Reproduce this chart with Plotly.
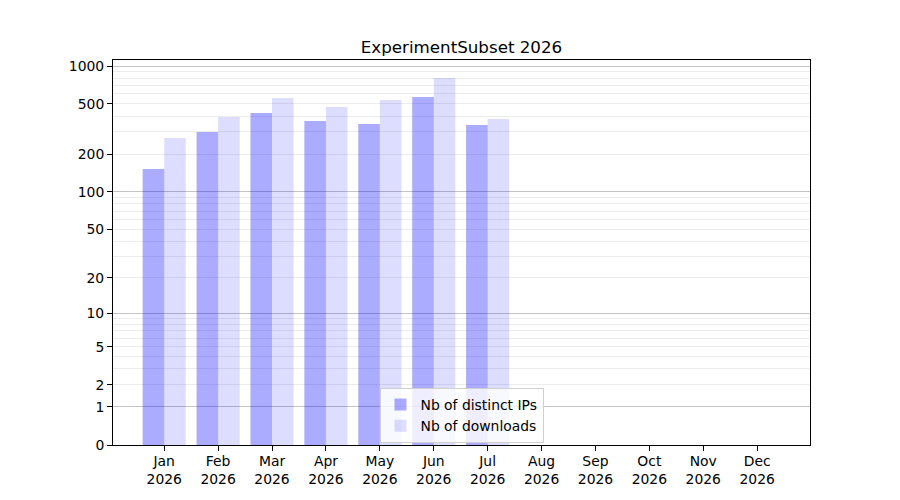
import numpy as np
import plotly.graph_objects as go

months = ['Jan', 'Feb', 'Mar', 'Apr', 'May', 'Jun', 'Jul', 'Aug', 'Sep', 'Oct', 'Nov', 'Dec']
year = '2026'
distinct_ips = [152, 300, 424, 366, 347, 568, 341]
downloads = [269, 394, 558, 473, 538, 804, 380]

tick_values = [0, 1, 2, 5, 10, 20, 50, 100, 200, 500, 1000]
major_grid = [1, 10, 100, 1000]
minor_grid = [m * d for d in (1, 10, 100) for m in range(2, 10)]


# symlog-like scale: log10(1 + v)
def tr(v):
    return np.log10(1 + np.asarray(v, dtype=float))


x = list(range(len(distinct_ips)))
font = dict(family='DejaVu Sans', size=13.9, color='black')

fig = go.Figure()
fig.add_trace(go.Bar(
    x=x, y=tr(distinct_ips), name='Nb of distinct IPs',
    marker=dict(color='rgba(0,0,255,0.33)', line_width=0),
    customdata=distinct_ips, hovertemplate='%{customdata}<extra></extra>',
))
fig.add_trace(go.Bar(
    x=x, y=tr(downloads), name='Nb of downloads',
    marker=dict(color='rgba(0,0,255,0.135)', line_width=0),
    customdata=downloads, hovertemplate='%{customdata}<extra></extra>',
))
# invisible trace just to carry the darker decade gridlines on a second axis
fig.add_trace(go.Scatter(x=[None], y=[None], yaxis='y2', showlegend=False, hoverinfo='skip'))

yrange = [0, 3.048]
# page body has an 8px margin, so the figure is 8px smaller than the window
fig.update_layout(
    width=892, height=492,
    paper_bgcolor='white', plot_bgcolor='white',
    font=font,
    margin=dict(l=105, r=90, t=52, b=55),
    barmode='group', bargap=0.2, bargroupgap=0,
    title=dict(text='ExperimentSubset ' + year, x=0.5, xref='paper', xanchor='center',
               y=1, yref='paper', yanchor='bottom', pad=dict(b=7),
               font=dict(family='DejaVu Sans', size=16.7, color='black')),
    xaxis=dict(
        range=[-0.95, 11.98], tickmode='array', tickvals=list(range(12)),
        ticktext=[m + '<br>' + year for m in months],
        showgrid=False, zeroline=False, showline=True, linecolor='black', linewidth=1,
        mirror=True, ticks='outside', ticklen=5, tickcolor='black', ticklabelstandoff=-2,
    ),
    yaxis=dict(
        range=yrange, tickmode='array', tickvals=tr(tick_values).tolist(),
        ticktext=[str(t) for t in tick_values],
        showgrid=False, zeroline=False, showline=True, linecolor='black', linewidth=1,
        mirror=True, ticks='outside', ticklen=5, tickcolor='black',
        minor=dict(tickmode='array', tickvals=tr(minor_grid).tolist(), showgrid=True,
                   gridcolor='#ececec', gridwidth=1, ticks=''),
    ),
    yaxis2=dict(
        range=yrange, overlaying='y', tickmode='array', tickvals=tr(major_grid).tolist(),
        showticklabels=False, showgrid=True, gridcolor='#c4c4c4', gridwidth=1,
        zeroline=False, showline=False, ticks='',
    ),
    legend=dict(
        x=0.5, xanchor='center', y=0.005, yanchor='bottom',
        bgcolor='rgba(255,255,255,0.8)', bordercolor='#d0d0d0', borderwidth=1,
        font=dict(family='DejaVu Sans', size=13.9, color='black'),
        itemsizing='constant', tracegroupgap=0,
    ),
)

fig.write_html('out.html')
